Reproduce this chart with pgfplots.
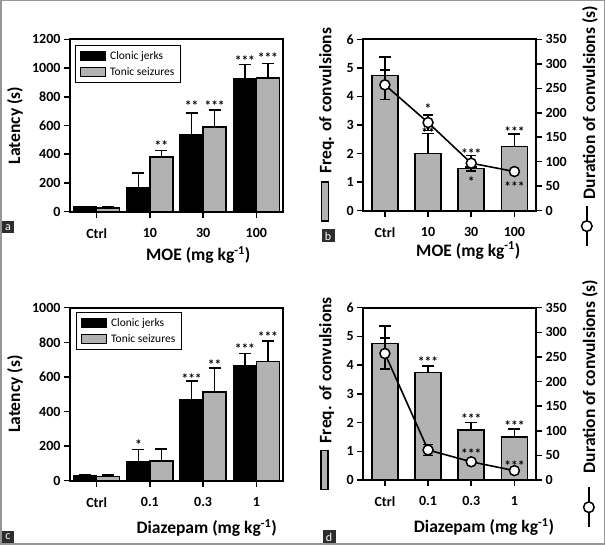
\documentclass[border=0pt]{standalone}
\usepackage{fontspec}
\setmainfont{Carlito}
\usepackage{pgfplots}
\pgfplotsset{compat=1.18}
\definecolor{bargray}{RGB}{178,178,178}
\definecolor{framegray}{RGB}{150,150,150}
\definecolor{labelbox}{RGB}{45,45,45}
\newcommand{\tickfont}{\fontsize{14}{16}\selectfont\bfseries}
\newcommand{\labfont}{\fontsize{17.5}{20}\selectfont\bfseries}
\newcommand{\starfont}{\fontsize{13.5}{15}\selectfont\bfseries}
\newcommand{\panelfont}{\fontsize{12}{12}\selectfont}
\tikzset{sig/.style={font=\starfont, anchor=base, yshift=-6.8pt, inner sep=0pt}}
\pgfplotsset{
  common/.style={
    scale only axis, anchor=south west, xmin=-0.5, xmax=3.5, ymin=0,
    axis line style={line width=1.7pt, black},
    tick align=outside, major tick length=6pt,
    tick style={line width=1.5pt, black},
    ticklabel style={font=\tickfont},
    xticklabel style={yshift=-7pt},
    /pgf/number format/assume math mode=true,
    /pgf/number format/1000 sep={},
    xtick={0,1,2,3}, clip=false,
  },
  ylab/.style 2 args={every axis y label/.style={at={(axis description cs:#1,#2)}, rotate=90, anchor=center, font=\labfont}},
  xlab/.style 2 args={every axis x label/.style={at={(axis description cs:#1,#2)}, anchor=center, font=\labfont}},
  errs/.style={/pgfplots/error bars/y dir=plus, /pgfplots/error bars/y explicit,
    /pgfplots/error bars/error bar style={line width=1.6pt, black},
    /pgfplots/error bars/error mark options={rotate=90, line width=1.6pt, mark size=6pt, black}},
  errsboth/.style={/pgfplots/error bars/y dir=both, /pgfplots/error bars/y explicit,
    /pgfplots/error bars/error bar style={line width=1.6pt, black},
    /pgfplots/error bars/error mark options={rotate=90, line width=1.6pt, mark size=5pt, black}},
  barleg/.style={legend image code/.code={\draw[##1, line width=1.1pt] (0pt,-4.5pt) rectangle (25pt,4.5pt);}},
  boxleg/.style={legend cell align=left,
    legend style={draw=black, line width=1.1pt, font=\fontsize{11.5}{13}\selectfont,
      inner xsep=4.5pt, inner ysep=4pt, row sep=2.5pt, anchor=north west,
      /tikz/every odd column/.append style={column sep=2pt}}},
  vbarleg/.style={legend image code/.code={\draw[fill=bargray, draw=black, line width=1.6pt] (0pt,-19.5pt) rectangle (7pt,19.5pt);},
    legend style={draw=none, fill=none, inner sep=0pt, anchor=center, nodes={inner sep=0pt}}},
  circleg/.style={legend image code/.code={\draw[black, line width=1.6pt] (0pt,-20pt) -- (0pt,20pt); \draw[black, fill=white, line width=1.5pt] (0pt,0pt) circle (5.3pt);},
    legend style={draw=none, fill=none, inner sep=0pt, anchor=center, nodes={inner sep=0pt}}},
  lineplot/.style={black, line width=1.6pt, mark=*, mark size=5pt, mark options={fill=white, draw=black, line width=1.5pt}},
}
\begin{document}
\begin{tikzpicture}
\useasboundingbox (0pt,0pt) rectangle (605pt,545pt);
\draw[framegray, line width=1.5pt] (0.75pt,0.75pt) rectangle (604.25pt,544.25pt);

% ---------- panel a ----------
\begin{axis}[common, at={(70pt,333.3pt)}, width=213pt, height=172.4pt,
  ymax=1200, ytick={0,200,...,1200}, xticklabels={Ctrl,10,30,100},
  xtick pos=left, ytick pos=left,
  ybar=0pt, bar width=23pt, barleg, boxleg,
  legend style={at={(axis description cs:0.0235,0.967)}},
  ylabel={Latency (s)}, xlabel={MOE (mg kg\textsuperscript{-1})},
  ylab={-0.258}{0.5}, xlab={0.602}{-0.251},
]
\addplot[fill=black, draw=black, line width=1.5pt, errs] coordinates
  {(0,32) +- (0,5) (1,167) +- (0,102) (2,534) +- (0,155) (3,926) +- (0,99)};
\addlegendentry{Clonic jerks}
\addplot[fill=bargray, draw=black, line width=1.5pt, errs] coordinates
  {(0,25) +- (0,10) (1,380) +- (0,47) (2,589) +- (0,119) (3,930) +- (0,102)};
\addlegendentry{Tonic seizures}
\node[sig] at (axis cs:1.216,476) {**};
\node[sig] at (axis cs:1.784,750) {**};
\node[sig] at (axis cs:2.216,750) {***};
\node[sig] at (axis cs:2.784,1065) {***};
\node[sig] at (axis cs:3.216,1089) {***};
\end{axis}

% ---------- panel b ----------
\begin{axis}[common, at={(363.3pt,334.3pt)}, width=172.7pt, height=171.4pt,
  ymax=6, ytick={0,1,...,6}, xticklabels={Ctrl,10,30,100},
  xtick pos=left, ytick pos=left, vbarleg,
  legend style={at={(axis description cs:-0.219,0.054)}},
  ylabel={Freq. of convulsions}, xlabel={MOE (mg kg\textsuperscript{-1})},
  ylab={-0.212}{0.641}, xlab={0.608}{-0.233},
]
\addplot[ybar, bar width=26pt, fill=bargray, draw=black, line width=1.5pt, errs] coordinates
  {(0,4.74) +- (0,0.63) (1,2.0) +- (0,0.7) (2,1.48) +- (0,0.06) (3,2.24) +- (0,0.45)};
\addlegendentry{}
\node[sig] at (axis cs:1,2.8) {**};
\node[sig] at (axis cs:2,1.07) {*};
\node[sig] at (axis cs:3,2.85) {***};
\end{axis}
\begin{axis}[common, at={(363.3pt,334.3pt)}, width=172.7pt, height=171.4pt,
  ymax=350, ytick={0,50,...,350}, axis y line*=right, axis x line=none, xtick=\empty,
  circleg, legend style={at={(axis description cs:1.297,-0.09)}},
  ylabel={Duration of convulsions (s)}, ylab={1.313}{0.631},
]
\addplot[lineplot, errsboth] coordinates
  {(0,257) +- (0,30) (1,180) +- (0,16) (2,97) +- (0,16) (3,80) +- (0,0)};
\addlegendentry{}
\node[sig] at (axis cs:1,212) {*};
\node[sig] at (axis cs:2,120) {***};
\node[sig] at (axis cs:3,52.5) {***};
\end{axis}

% ---------- panel c ----------
\begin{axis}[common, at={(70pt,64.3pt)}, width=213pt, height=173pt,
  ymax=1000, ytick={0,200,...,1000}, xticklabels={Ctrl,0.1,0.3,1},
  xtick pos=left, ytick pos=left,
  ybar=0pt, bar width=23pt, barleg, boxleg,
  legend style={at={(axis description cs:0.028,0.977)}},
  ylabel={Latency (s)}, xlabel={Diazepam (mg kg\textsuperscript{-1})},
  ylab={-0.258}{0.5}, xlab={0.642}{-0.275},
]
\addplot[fill=black, draw=black, line width=1.5pt, errs] coordinates
  {(0,31) +- (0,4) (1,110) +- (0,71) (2,466) +- (0,110) (3,665) +- (0,71)};
\addlegendentry{Clonic jerks}
\addplot[fill=bargray, draw=black, line width=1.5pt, errs] coordinates
  {(0,23) +- (0,10) (1,114) +- (0,69) (2,512) +- (0,139) (3,690) +- (0,117)};
\addlegendentry{Tonic seizures}
\node[sig] at (axis cs:0.784,220) {*};
\node[sig] at (axis cs:1.784,599) {***};
\node[sig] at (axis cs:2.216,682) {**};
\node[sig] at (axis cs:2.784,773) {***};
\node[sig] at (axis cs:3.216,842) {***};
\end{axis}

% ---------- panel d ----------
\begin{axis}[common, at={(363.3pt,65pt)}, width=172.7pt, height=172.3pt,
  ymax=6, ytick={0,1,...,6}, xticklabels={Ctrl,0.1,0.3,1},
  xtick pos=left, ytick pos=left, vbarleg,
  legend style={at={(axis description cs:-0.222,0.058)}},
  ylabel={Freq. of convulsions}, xlabel={Diazepam (mg kg\textsuperscript{-1})},
  ylab={-0.212}{0.638}, xlab={0.699}{-0.271},
]
\addplot[ybar, bar width=26pt, fill=bargray, draw=black, line width=1.5pt, errs] coordinates
  {(0,4.76) +- (0,0.61) (1,3.74) +- (0,0.24) (2,1.74) +- (0,0.26) (3,1.49) +- (0,0.28)};
\addlegendentry{}
\node[sig] at (axis cs:1,4.18) {***};
\node[sig] at (axis cs:2,2.2) {***};
\node[sig] at (axis cs:3,1.95) {***};
\end{axis}
\begin{axis}[common, at={(363.3pt,65pt)}, width=172.7pt, height=172.3pt,
  ymax=350, ytick={0,50,...,350}, axis y line*=right, axis x line=none, xtick=\empty,
  circleg, legend style={at={(axis description cs:1.309,-0.158)}},
  ylabel={Duration of convulsions (s)}, ylab={1.313}{0.60},
]
\addplot[lineplot, errsboth] coordinates
  {(0,257) +- (0,32) (1,61) +- (0,11) (2,37) +- (0,0) (3,19) +- (0,0)};
\addlegendentry{}
\node[sig] at (axis cs:2,57.5) {***};
\node[sig] at (axis cs:3,34) {***};
\end{axis}

% panel letters
\node[fill=labelbox, text=white, font=\panelfont, minimum size=12pt, inner sep=0pt] at (8pt,317.5pt) {a};
\node[fill=labelbox, text=white, font=\panelfont, minimum size=13pt, inner sep=0pt] at (328pt,309pt) {b};
\node[fill=labelbox, text=white, font=\panelfont, minimum size=12pt, inner sep=0pt] at (8pt,8pt) {c};
\node[fill=labelbox, text=white, font=\panelfont, minimum size=13pt, inner sep=0pt] at (329pt,8pt) {d};
\end{tikzpicture}
\end{document}
